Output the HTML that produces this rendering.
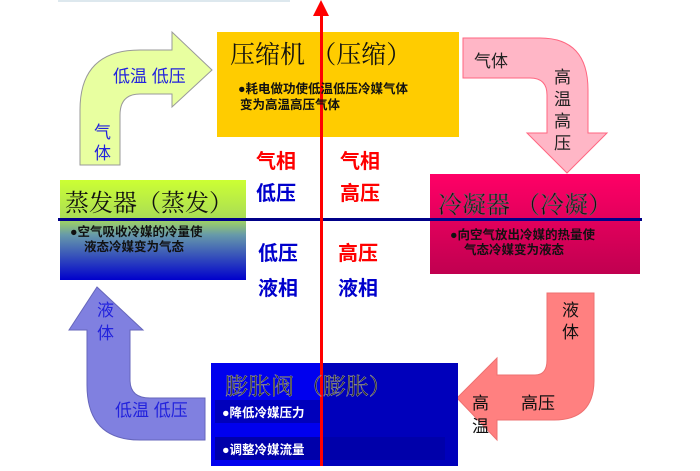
<!DOCTYPE html>
<html><head><meta charset="utf-8"><style>
body{margin:0;background:#fff;width:700px;height:466px;overflow:hidden;font-family:"Liberation Sans","Noto Sans CJK SC",sans-serif}
</style></head><body>
<svg width="700" height="466" viewBox="0 0 700 466" xmlns="http://www.w3.org/2000/svg" font-family="Liberation Sans, Noto Sans CJK SC, sans-serif">
<defs>
<linearGradient id="ev" x1="0" y1="0" x2="0" y2="1">
<stop offset="0" stop-color="#CCFF33"/><stop offset="0.38" stop-color="#AADD55"/><stop offset="0.55" stop-color="#6699AA"/><stop offset="1" stop-color="#0000CC"/></linearGradient>
<linearGradient id="cd" x1="0" y1="0" x2="0" y2="1">
<stop offset="0" stop-color="#FF0066"/><stop offset="1" stop-color="#C00050"/></linearGradient>
</defs>
<rect x="58" y="0" width="232" height="2" fill="#dde8ee"/>
<path d="M80,165 L80,110 Q80,50 140,50 L172,50 L172,32 L212,70 L172,107 L172,94 L140,94 Q120,94 120,115 L120,165 Z" fill="#E8FFA0" stroke="#999" stroke-width="1"/>
<path d="M463,38 L540,38 Q588,38 588,90 L588,133 L607,133 L567,173 L527,133 L547,133 L547,95 Q547,78 530,78 L463,78 Z" fill="#FFB6C6" stroke="#FF6680" stroke-width="1"/>
<path d="M547,293 L594,293 L594,380 Q594,420 554,420 L497,420 L497,440 L457,398 L497,358 L497,375 L535,375 Q547,375 547,360 Z" fill="#FF8080" stroke="#ee7070" stroke-width="1"/>
<path d="M97,287 L143,330 L130,330 L130,380 Q130,398 150,398 L205,398 L205,440 L140,440 Q87,440 87,385 L87,330 L69,330 Z" fill="#8080E0" stroke="#6666bb" stroke-width="1"/>
<rect x="217" y="32" width="242" height="105" fill="#FFCC00"/>
<rect x="60" y="180" width="186" height="100" fill="url(#ev)"/>
<rect x="430" y="174" width="210" height="100" fill="url(#cd)"/>
<rect x="211" y="363" width="247" height="103" fill="#0000EE"/>
<rect x="321" y="363" width="137" height="103" fill="#0000BB"/>
<rect x="215" y="400" width="225" height="23" fill="#0000BB"/>
<rect x="215" y="437" width="230" height="23" fill="#0000AA"/>
<rect x="58" y="218" width="584" height="3" fill="#000088"/>
<rect x="320" y="12" width="3" height="454" fill="#FF0000"/>
<path d="M313,16 L321,0 L329,16 Z" fill="#FF0000"/>
<g font-family="Liberation Serif, Noto Serif CJK SC, serif">
<text x="230" y="63" font-size="25" fill="#111">压缩机 （压缩）</text>
<text x="65" y="211" font-size="24" fill="#111">蒸发器（蒸发）</text>
<text x="438" y="213" font-size="24" fill="#111" stroke="#666" stroke-width="0.4">冷凝器 （冷凝）</text>
<text x="225" y="394" font-size="23" fill="#222" stroke="#999" stroke-width="0.5">膨胀阀 （膨胀）</text>
</g>
<g font-size="12.5" font-weight="bold">
<text x="238" y="93" fill="#111">●耗电做功使低温低压冷媒气体</text>
<text x="240" y="109" fill="#111">变为高温高压气体</text>
<text x="70" y="236" fill="#111">●空气吸收冷媒的冷量使</text>
<text x="84" y="251" fill="#111">液态冷媒变为气态</text>
<text x="450" y="239" fill="#111">●向空气放出冷媒的热量使</text>
<text x="464" y="254" fill="#111">气态冷媒变为液态</text>
<text x="222" y="417" fill="#fff">●降低冷媒压力</text>
<text x="222" y="454" fill="#fff">●调整冷媒流量</text>
</g>
<g font-size="20" font-weight="bold">
<text x="256" y="168" fill="#FF0000">气相</text>
<text x="256" y="200" fill="#0000CC">低压</text>
<text x="340" y="168" fill="#FF0000">气相</text>
<text x="340" y="200" fill="#FF0000">高压</text>
<text x="258" y="260" fill="#0000CC">低压</text>
<text x="338" y="260" fill="#FF0000">高压</text>
<text x="258" y="295" fill="#0000CC">液相</text>
<text x="338" y="295" fill="#0000CC">液相</text>
</g>
<g font-size="17">
<text x="113" y="82" fill="#2222DD">低温 低压</text>
<text x="94" y="138" fill="#2222DD">气</text>
<text x="94" y="159" fill="#2222DD">体</text>
<text x="474" y="67" fill="#222">气体</text>
<text x="554" y="83" fill="#222">高</text>
<text x="554" y="105" fill="#222">温</text>
<text x="554" y="127" fill="#222">高</text>
<text x="554" y="149" fill="#222">压</text>
<text x="562" y="316" fill="#111">液</text>
<text x="562" y="338" fill="#111">体</text>
<text x="472" y="409" fill="#111">高</text>
<text x="472" y="432" fill="#111">温</text>
<text x="521" y="409" fill="#111">高压</text>
<text x="97" y="316" fill="#2222DD">液</text>
<text x="97" y="339" fill="#2222DD">体</text>
<text x="115" y="416" fill="#2222DD">低温 低压</text>
</g>
</svg>
</body></html>
